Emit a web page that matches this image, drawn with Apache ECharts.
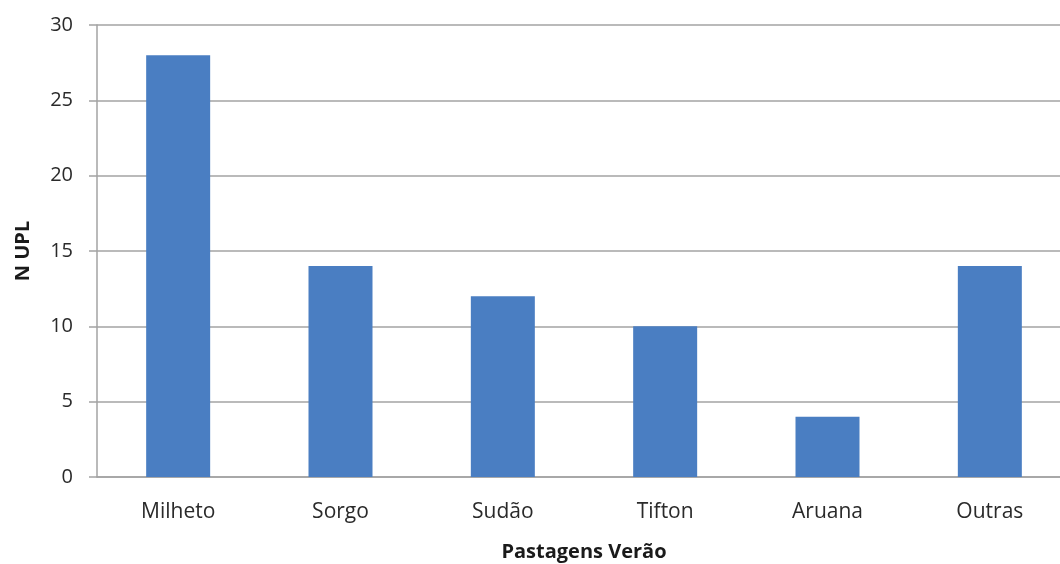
<!DOCTYPE html>
<html>
<head>
<meta charset="utf-8">
<script src="https://cdn.jsdelivr.net/npm/echarts@6/dist/echarts.min.js"></script>
<style>
  html, body { margin: 0; padding: 0; background: #ffffff; }
  #chart { width: 1060px; height: 564px; }
</style>
</head>
<body>
<div id="chart"></div>
<script>
// Summer pasture types and the number of production units using each
const categories = ['Milheto', 'Sorgo', 'Sudão', 'Tifton', 'Aruana', 'Outras'];
const nUpl = [28, 14, 12, 10, 4, 14];
const yTicks = [0, 5, 10, 15, 20, 25, 30];

const font = '"Open Sans", Lato, "Liberation Sans", sans-serif';
const gridColor = '#a3a3a3';

const chart = echarts.init(document.getElementById('chart'), null, { renderer: 'canvas' });
chart.setOption({
  animation: false,
  backgroundColor: '#ffffff',
  grid: { left: 97, top: 25, width: 974, height: 452, containLabel: false, outerBoundsMode: 'none' },
  xAxis: {
    type: 'category',
    data: categories,
    name: 'Pastagens Verão',
    nameLocation: 'middle',
    nameGap: 65,
    nameTextStyle: { fontFamily: font, fontSize: 20, fontWeight: 'bold', color: '#1a1a1a' },
    axisLine: { lineStyle: { color: gridColor, width: 1.5 } },
    axisTick: { show: false },
    axisLabel: { fontFamily: font, fontSize: 21, color: '#2a2a2a', margin: 25 }
  },
  yAxis: {
    type: 'value',
    min: yTicks[0],
    max: yTicks[yTicks.length - 1],
    interval: 5,
    name: 'N UPL',
    nameLocation: 'middle',
    nameGap: 64,
    nameRotate: 90,
    nameTextStyle: { fontFamily: font, fontSize: 20, fontWeight: 'bold', color: '#1a1a1a' },
    axisLine: { show: true, lineStyle: { color: gridColor, width: 1.5 } },
    axisTick: { show: true, length: 8, lineStyle: { color: gridColor, width: 1.5 } },
    axisLabel: { fontFamily: font, fontSize: 20, color: '#2a2a2a', margin: 24 },
    splitLine: { lineStyle: { color: gridColor, width: 1.5 } }
  },
  series: [{
    type: 'bar',
    data: nUpl,
    barWidth: 64,
    itemStyle: { color: '#4a7ec2' }
  }]
});
</script>
</body>
</html>
